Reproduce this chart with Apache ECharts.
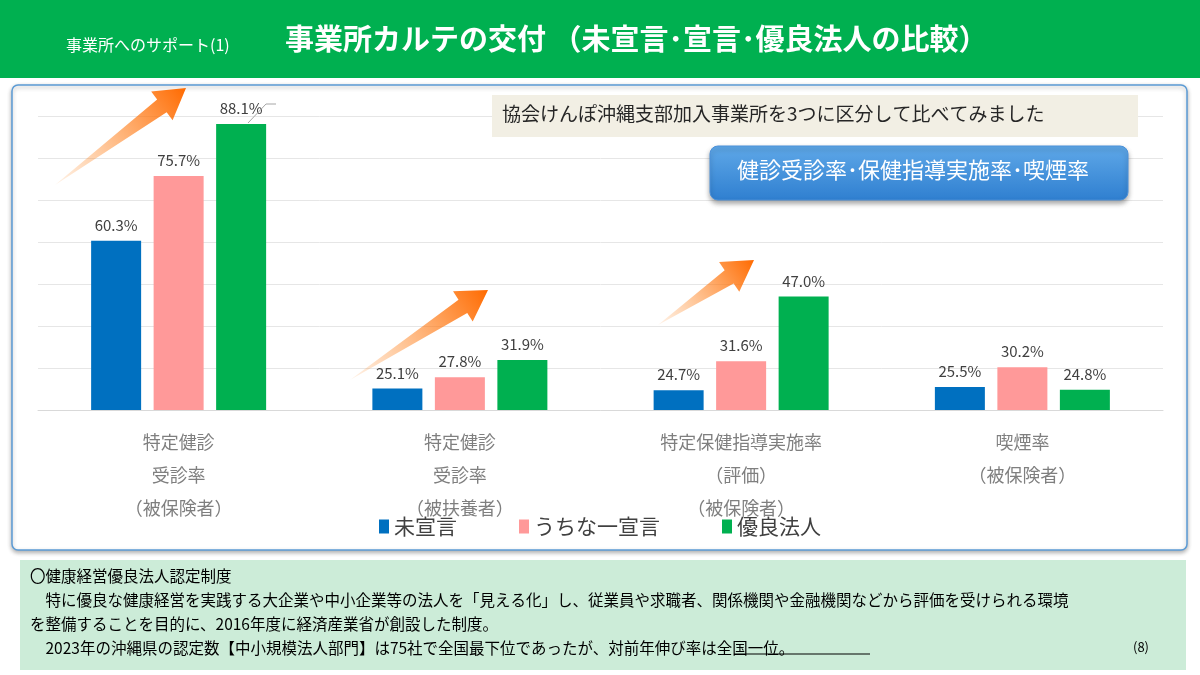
<!DOCTYPE html>
<html>
<head>
<meta charset="utf-8">
<title>事業所カルテの交付</title>
<script src="https://cdn.jsdelivr.net/npm/echarts@6/dist/echarts.min.js"></script>
<style>
  html, body { margin: 0; padding: 0; background: #fff; }
  #main { width: 1200px; height: 675px; }
</style>
</head>
<body>
<div id="main"></div>
<script type="text/javascript">
    // chart data
    var categories = ['特定健診\n受診率\n（被保険者）', '特定健診\n受診率\n（被扶養者）', '特定保健指導実施率\n（評価）\n（被保険者）', '喫煙率\n（被保険者）'];
    var seriesNames = ['未宣言', 'うちな一宣言', '優良法人'];
    var undeclared = [60.3, 25.1, 24.7, 25.5];
    var declared = [75.7, 27.8, 31.6, 30.2];
    var certified = [88.1, 31.9, 47.0, 24.8];
    var colors = ['#0070c0', '#ff9999', '#00b050'];

    var font = '"Noto Sans CJK JP", "Noto Sans", sans-serif';
    var myChart = echarts.init(document.getElementById('main'));

    function arrow(x1, y1, x2, y2) {
        // orange arrow from (x1,y1) to (x2,y2)
        var dx = x2 - x1, dy = y2 - y1, len = Math.sqrt(dx * dx + dy * dy);
        var ux = dx / len, uy = dy / len, nx = -uy, ny = ux;
        var hb = len - 30;
        var p = function (a, b) { return [x1 + ux * a + nx * b, y1 + uy * a + ny * b]; };
        return {
            type: 'polygon', z: 10,
            shape: { points: [p(0, 0), p(hb, -8), p(hb, -18), p(len, 0), p(hb, 18), p(hb, 8)] },
            style: {
                fill: new echarts.graphic.LinearGradient(0, 1, 1, 0, [
                    { offset: 0, color: 'rgba(255,140,40,0.1)' },
                    { offset: 1, color: '#ff6a00' }
                ])
            }
        };
    }

    function barSeries(i, data) {
        return {
            name: seriesNames[i], type: 'bar', data: data, barWidth: 50, barGap: '25%',
            itemStyle: { color: colors[i] },
            label: {
                show: true, position: 'top', distance: 8,
                color: '#404040', fontSize: 15, fontFamily: font,
                formatter: function (p) { return p.value.toFixed(1) + '%'; }
            }
        };
    }

    var option = {
        backgroundColor: '#fff',
        textStyle: { fontFamily: font },
        grid: { left: 38, right: 37, top: 116, bottom: 265 },
        xAxis: {
            type: 'category', data: categories,
            axisLine: { lineStyle: { color: '#d9d9d9' } },
            axisTick: { show: false },
            axisLabel: { color: '#7f7f7f', fontSize: 18, lineHeight: 33, margin: 16, fontFamily: font }
        },
        yAxis: {
            type: 'value', min: 20, max: 90, interval: 10,
            axisLabel: { show: false },
            axisLine: { show: false }, axisTick: { show: false },
            splitLine: { lineStyle: { color: '#e6e6e6' } }
        },
        legend: {
            data: seriesNames, left: 'center', top: 511,
            itemWidth: 10, itemHeight: 14, itemGap: 62, icon: 'rect',
            textStyle: { color: '#404040', fontSize: 21, fontFamily: font }
        },
        series: [barSeries(0, undeclared), barSeries(1, declared), barSeries(2, certified)],
        graphic: [
            { type: 'rect', z: -1, shape: { x: 0, y: 0, width: 1200, height: 78 }, style: { fill: '#00b050' } },
            { type: 'text', left: 66, top: 37, style: { text: '事業所へのサポート(1)', fill: '#fff', font: '16px ' + font } },
            { type: 'text', left: 285, top: 24, style: { text: '事業所カルテの交付 （未宣言･宣言･優良法人の比較）', fill: '#fff', font: 'bold 29px ' + font } },
            { type: 'rect', z: -1, shape: { x: 12, y: 85, width: 1175, height: 465, r: 6 },
              style: { fill: '#fff', stroke: '#5b9bd5', lineWidth: 1.5, shadowColor: 'rgba(0,0,0,0.3)', shadowBlur: 4, shadowOffsetY: 2 } },
            { type: 'rect', z: 5, shape: { x: 492, y: 95, width: 646, height: 42 }, style: { fill: '#f2efe4' } },
            { type: 'text', z: 6, left: 502, top: 104, style: { text: '協会けんぽ沖縄支部加入事業所を3つに区分して比べてみました', fill: '#262626', font: '19px ' + font } },
            { type: 'rect', z: 5, shape: { x: 710, y: 146, width: 418, height: 54, r: 8 },
              style: {
                  fill: new echarts.graphic.LinearGradient(0, 0, 0, 1, [
                      { offset: 0, color: '#5fa8e8' }, { offset: 1, color: '#2f7fd0' }
                  ]),
                  stroke: '#4a90d9', shadowColor: 'rgba(0,0,0,0.35)', shadowBlur: 5, shadowOffsetY: 3
              } },
            { type: 'text', z: 6, left: 737, top: 159, style: { text: '健診受診率･保健指導実施率･喫煙率', fill: '#fff', font: '22px ' + font } },
            { type: 'polyline', z: 6, shape: { points: [[248, 123], [266, 104], [276, 104]] }, style: { stroke: '#a6a6a6', lineWidth: 1 } },
            arrow(55, 185, 186, 88),
            arrow(350, 380, 488, 290),
            arrow(658, 325, 754, 260),
            { type: 'rect', z: -1, shape: { x: 20, y: 560, width: 1166, height: 110 }, style: { fill: '#ccecd8' } },
            { type: 'text', left: 30, top: 564, style: {
                text: '〇健康経営優良法人認定制度\n　特に優良な健康経営を実践する大企業や中小企業等の法人を「見える化」し、従業員や求職者、関係機関や金融機関などから評価を受けられる環境\nを整備することを目的に、2016年度に経済産業省が創設した制度。\n　2023年の沖縄県の認定数【中小規模法人部門】は75社で全国最下位であったが、対前年伸び率は全国一位。',
                fill: '#000', font: '15.5px ' + font, lineHeight: 24 } },
            { type: 'line', shape: { x1: 734, y1: 654, x2: 870, y2: 654 }, style: { stroke: '#000', lineWidth: 1 } },
            { type: 'text', left: 1133, top: 641, style: { text: '(8)', fill: '#000', font: '13px ' + font } }
        ]
    };

    myChart.setOption(option);
</script>
</body>
</html>
